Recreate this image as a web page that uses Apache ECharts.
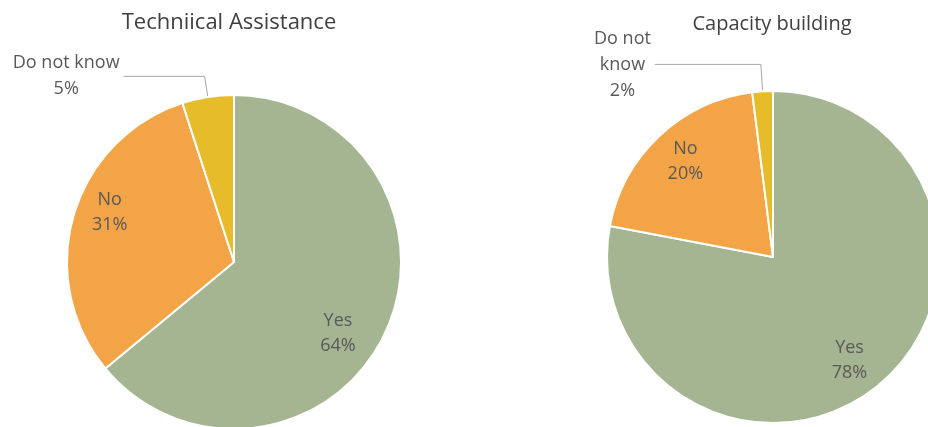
<!DOCTYPE html>
<html>
<head>
<meta charset="utf-8">
<script src="https://cdn.jsdelivr.net/npm/echarts@6/dist/echarts.min.js"></script>
<style>
html,body{margin:0;padding:0;background:#fff;}
#c{width:928px;height:427px;}
</style>
</head>
<body>
<div id="c"></div>
<script>
// Data
const categories = ['Yes', 'No', 'Do not know'];
const technicalValues = [64, 31, 5];
const capacityValues = [78, 20, 2];
const titles = ['Techniical Assistance', 'Capacity building'];

const colors = ['#A5B592', '#F3A447', '#E6BC2B'];
const textColor = '#595959';
const FONT = '"Open Sans", sans-serif';

const chart = echarts.init(document.getElementById('c'));

function mainSeries(values, center, radius, lineLen, lineLen2, wrapName) {
  return {
    type: 'pie',
    center: center,
    radius: radius,
    startAngle: 90,
    clockwise: true,
    silent: true,
    avoidLabelOverlap: false,
    itemStyle: { borderColor: '#fff', borderWidth: 2 },
    data: categories.map((c, i) => ({
      name: c,
      value: values[i],
      itemStyle: { color: colors[i] },
      label: { show: i === 2 },
      labelLine: { show: i === 2 }
    })),
    label: {
      position: 'outside',
      bleedMargin: 0,
      distanceToLabelLine: 4,
      color: textColor,
      fontFamily: FONT,
      fontSize: 18,
      formatter: p => {
        const nm = wrapName ? p.name.replace('not ', 'not\n') : p.name;
        return nm.split('\n').map(s => '{t|' + s + '}').join('\n') + '\n{t|' + p.value + '%}';
      },
      rich: { t: { align: 'center', color: textColor, fontFamily: FONT, fontSize: 18, lineHeight: 26 } }
    },
    labelLine: {
      length: lineLen,
      length2: lineLen2,
      lineStyle: { color: '#A6A6A6', width: 1 }
    }
  };
}

// small nudges so inside labels sit where the reference places them
function labelSeries(values, center, radius, nudges) {
  return {
    type: 'pie',
    center: center,
    radius: radius,
    startAngle: 90,
    clockwise: true,
    silent: true,
    z: 5,
    itemStyle: { color: 'rgba(0,0,0,0)', borderWidth: 0 },
    data: categories.map((c, i) => ({
      name: c,
      value: values[i],
      label: { show: i !== 2 }
    })),
    label: {
      position: 'inside',
      color: textColor,
      fontFamily: FONT,
      fontSize: 18,
      lineHeight: 25,
      align: 'center',
      formatter: '{b}\n{c}%'
    },
    labelLayout: p => {
      const n = nudges[p.dataIndex] || [0, 0];
      return { dx: n[0], dy: n[1] };
    },
    labelLine: { show: false }
  };
}

chart.setOption({
  animation: false,
  backgroundColor: '#fff',
  title: [
    { text: titles[0], left: 224, top: 7, textAlign: 'center',
      textStyle: { color: '#404040', fontFamily: FONT, fontSize: 22, fontWeight: 'normal' } },
    { text: titles[1], left: 767, top: 9, textAlign: 'center',
      textStyle: { color: '#404040', fontFamily: FONT, fontSize: 20, fontWeight: 'normal' } }
  ],
  series: [
    mainSeries(technicalValues, [234, 262], 167, 21, 81, false),
    labelSeries(technicalValues, [234, 262], 257, [[-15, 15], [2, -13]]),
    mainSeries(capacityValues, [773, 257], 166, 27, 106, true),
    labelSeries(capacityValues, [773, 257], 256, [[-7, 2], [2, 0]])
  ]
});
</script>
</body>
</html>
